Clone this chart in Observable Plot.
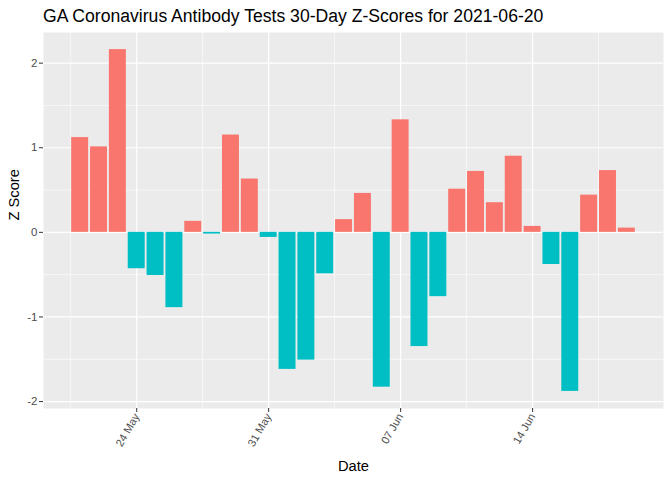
<!DOCTYPE html>
<html><head><meta charset="utf-8">
<script src="https://cdn.jsdelivr.net/npm/d3@7"></script>
<script src="https://cdn.jsdelivr.net/npm/@observablehq/plot@0.6"></script>
<style>
body{margin:0;background:#fff;font-family:"Liberation Sans",Arial,sans-serif;}
#title{height:30px;box-sizing:border-box;padding:8px 0 0 43px;font-size:17.6px;line-height:17px;color:#000;white-space:nowrap;}
#chart svg{display:block;}
</style></head>
<body>
<div id="title">GA Coronavirus Antibody Tests 30-Day Z-Scores for 2021-06-20</div>
<div id="chart"></div>
<script>
const dates = ["2021-05-21","2021-05-22","2021-05-23","2021-05-24","2021-05-25","2021-05-26","2021-05-27","2021-05-28","2021-05-29","2021-05-30",
  "2021-05-31","2021-06-01","2021-06-02","2021-06-03","2021-06-04","2021-06-05","2021-06-06","2021-06-07","2021-06-08","2021-06-09",
  "2021-06-10","2021-06-11","2021-06-12","2021-06-13","2021-06-14","2021-06-15","2021-06-16","2021-06-17","2021-06-18","2021-06-19"];
const zScores = [1.12, 1.01, 2.16, -0.43, -0.51, -0.89, 0.13, -0.02, 1.15, 0.63,
  -0.06, -1.62, -1.51, -0.49, 0.15, 0.46, -1.83, 1.33, -1.35, -0.76,
  0.51, 0.72, 0.35, 0.90, 0.07, -0.38, -1.88, 0.44, 0.73, 0.05];
const xTickLabels = ["2021-05-24","2021-05-31","2021-06-07","2021-06-14"];
const xMinorTicks = ["2021-05-20T12:00","2021-05-27T12:00","2021-06-03T12:00","2021-06-10T12:00","2021-06-17T12:00"];
const yTicks = [-2, -1, 0, 1, 2];
const yMinorTicks = [-1.5, -0.5, 0.5, 1.5];
const posColor = "#F8766D", negColor = "#00BFC4";

const DAY = 864e5;
const parse = s => new Date(s + (s.length === 10 ? "T00:00Z" : "Z"));
const data = dates.map((d, i) => ({date: parse(d), z: zScores[i]}));
const half = 0.45 * DAY;

const xmin = +data[0].date - half, xmax = +data[data.length-1].date + half;
const xpad = (xmax - xmin) * 0.05;
const ymin = Math.min(0, d3.min(zScores)), ymax = Math.max(0, d3.max(zScores));
const ypad = (ymax - ymin) * 0.05;

const chart = Plot.plot({
  width: 672, height: 450,
  marginTop: 2, marginBottom: 72, marginLeft: 43, marginRight: 9,
  style: {fontFamily: "Liberation Sans, Arial, sans-serif", background: "white"},
  x: {type: "utc", domain: [new Date(xmin - xpad), new Date(xmax + xpad)]},
  y: {domain: [ymin - ypad, ymax + ypad]},
  marks: [
    Plot.frame({fill: "#EBEBEB", stroke: null}),
    Plot.gridY(yMinorTicks, {stroke: "white", strokeOpacity: 1, strokeWidth: 0.6}),
    Plot.gridX(xMinorTicks.map(parse), {stroke: "white", strokeOpacity: 1, strokeWidth: 0.6}),
    Plot.gridY(yTicks, {stroke: "white", strokeOpacity: 1, strokeWidth: 1.2}),
    Plot.gridX(xTickLabels.map(parse), {stroke: "white", strokeOpacity: 1, strokeWidth: 1.2}),
    Plot.rectY(data, {
      x1: d => new Date(+d.date - half),
      x2: d => new Date(+d.date + half),
      y: "z",
      fill: d => d.z > 0 ? posColor : negColor
    }),
    Plot.axisY(yTicks, {tickSize: 4, tickPadding: 2, fontSize: 11.5, color: "#4D4D4D", stroke: "#333333",
      tickFormat: d => String(d), label: null}),
    Plot.axisX(xTickLabels.map(parse), {tickSize: 4, tickPadding: 2, fontSize: 11, color: "#4D4D4D", stroke: "#333333",
      tickRotate: -60, tickFormat: d3.utcFormat("%d %b"), label: null}),
    Plot.text(["Date"], {frameAnchor: "bottom", dy: 62, lineAnchor: "bottom", fontSize: 14.7, fill: "black"}),
    Plot.text(["Z Score"], {frameAnchor: "left", dx: -29, rotate: -90, fontSize: 14.7, fill: "black"})
  ]
});
document.getElementById("chart").appendChild(chart);
</script>
</body></html>
